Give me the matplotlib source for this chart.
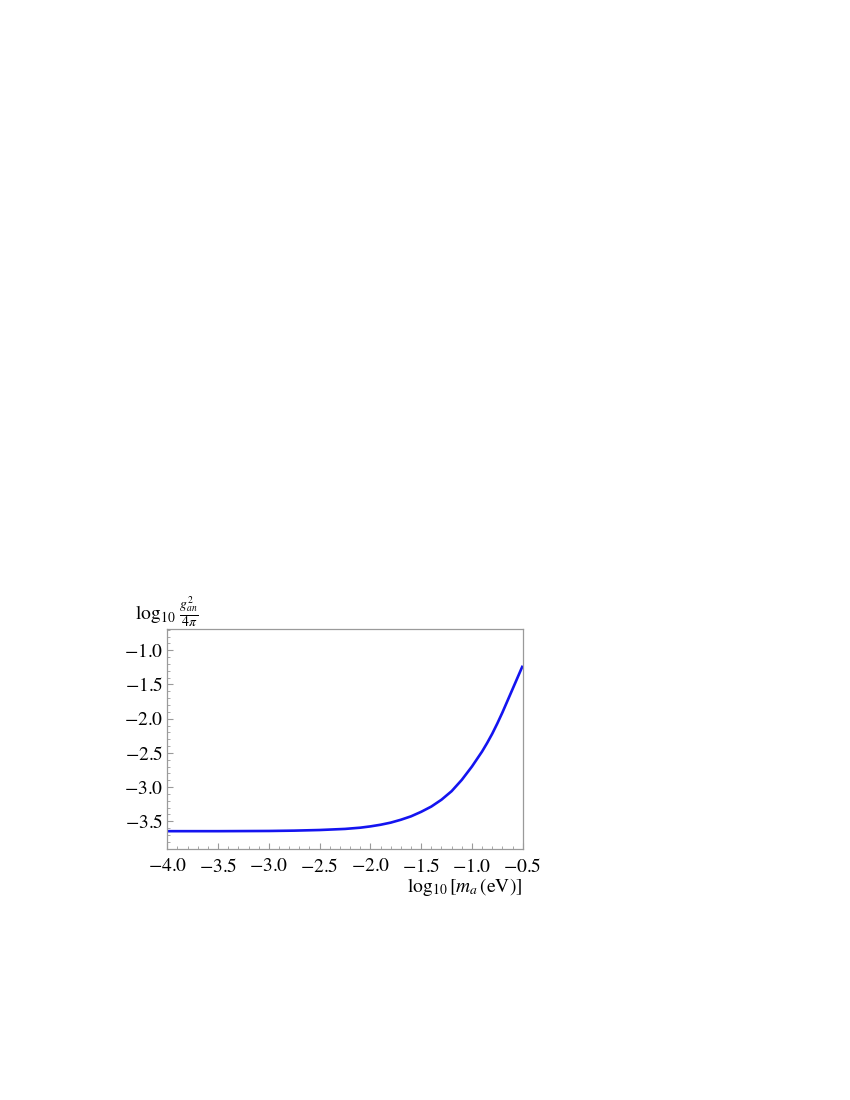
import matplotlib
matplotlib.use("Agg")
import matplotlib.pyplot as plt
from matplotlib.ticker import MultipleLocator, FormatStrFormatter

log_ma = [-4.0, -3.5, -3.0, -2.75, -2.5, -2.25, -2.1, -2.0, -1.9, -1.8, -1.7,
          -1.6, -1.5, -1.4, -1.3, -1.2, -1.1, -1.0, -0.9, -0.85, -0.8, -0.75,
          -0.7, -0.6, -0.5]
log_g = [-3.645, -3.645, -3.642, -3.637, -3.628, -3.612, -3.594, -3.575,
         -3.551, -3.52, -3.478, -3.428, -3.362, -3.285, -3.185, -3.06, -2.895,
         -2.70, -2.48, -2.355, -2.22, -2.07, -1.91, -1.568, -1.225]

x_ticks = [-4.0, -3.5, -3.0, -2.5, -2.0, -1.5, -1.0, -0.5]
y_ticks = [-3.5, -3.0, -2.5, -2.0, -1.5, -1.0]

plt.rcParams['font.family'] = ['Liberation Serif', 'DejaVu Serif']
plt.rcParams['mathtext.fontset'] = 'stix'

fig = plt.figure(figsize=(8.5, 11), dpi=100)
W, H = 850, 1100
left, right, top, bottom = 167.3, 522.7, 629.3, 849.3
ax = fig.add_axes([left / W, 1 - bottom / H, (right - left) / W, (bottom - top) / H])

ax.plot(log_ma, log_g, color='#1414f0', lw=1.9, solid_capstyle='butt',
        solid_joinstyle='round')
ax.set_xlim(-4.0, -0.5)
ax.set_ylim(-3.91, -0.693)

ax.set_xticks(x_ticks)
ax.set_yticks(y_ticks)
ax.xaxis.set_minor_locator(MultipleLocator(0.1))
ax.yaxis.set_minor_locator(MultipleLocator(0.1))
ax.xaxis.set_major_formatter(FormatStrFormatter('$%.1f$'))
ax.yaxis.set_major_formatter(FormatStrFormatter('$%.1f$'))

gray = '#9a9a9a'
for s in ax.spines.values():
    s.set_color(gray)
    s.set_linewidth(0.9)
ax.tick_params(which='both', direction='in', colors=gray, labelcolor='black',
               top=False, right=False)
ax.tick_params(which='major', length=4.5, width=0.8, labelsize=14)
ax.tick_params(axis='x', which='major', pad=6)
ax.tick_params(axis='y', which='major', pad=3)
ax.tick_params(which='minor', length=2.5, width=0.6)

fig.text(135 / W, 1 - 612 / H, r'$\log_{10}\,\frac{g_{an}^{2}}{4\pi}$',
         fontsize=14, ha='left', va='center')
fig.text(522 / W, 1 - 887 / H, r'$\log_{10}[m_a\,(\mathrm{eV})]$',
         fontsize=14, ha='right', va='center')

fig.savefig('out.png', dpi=100)
